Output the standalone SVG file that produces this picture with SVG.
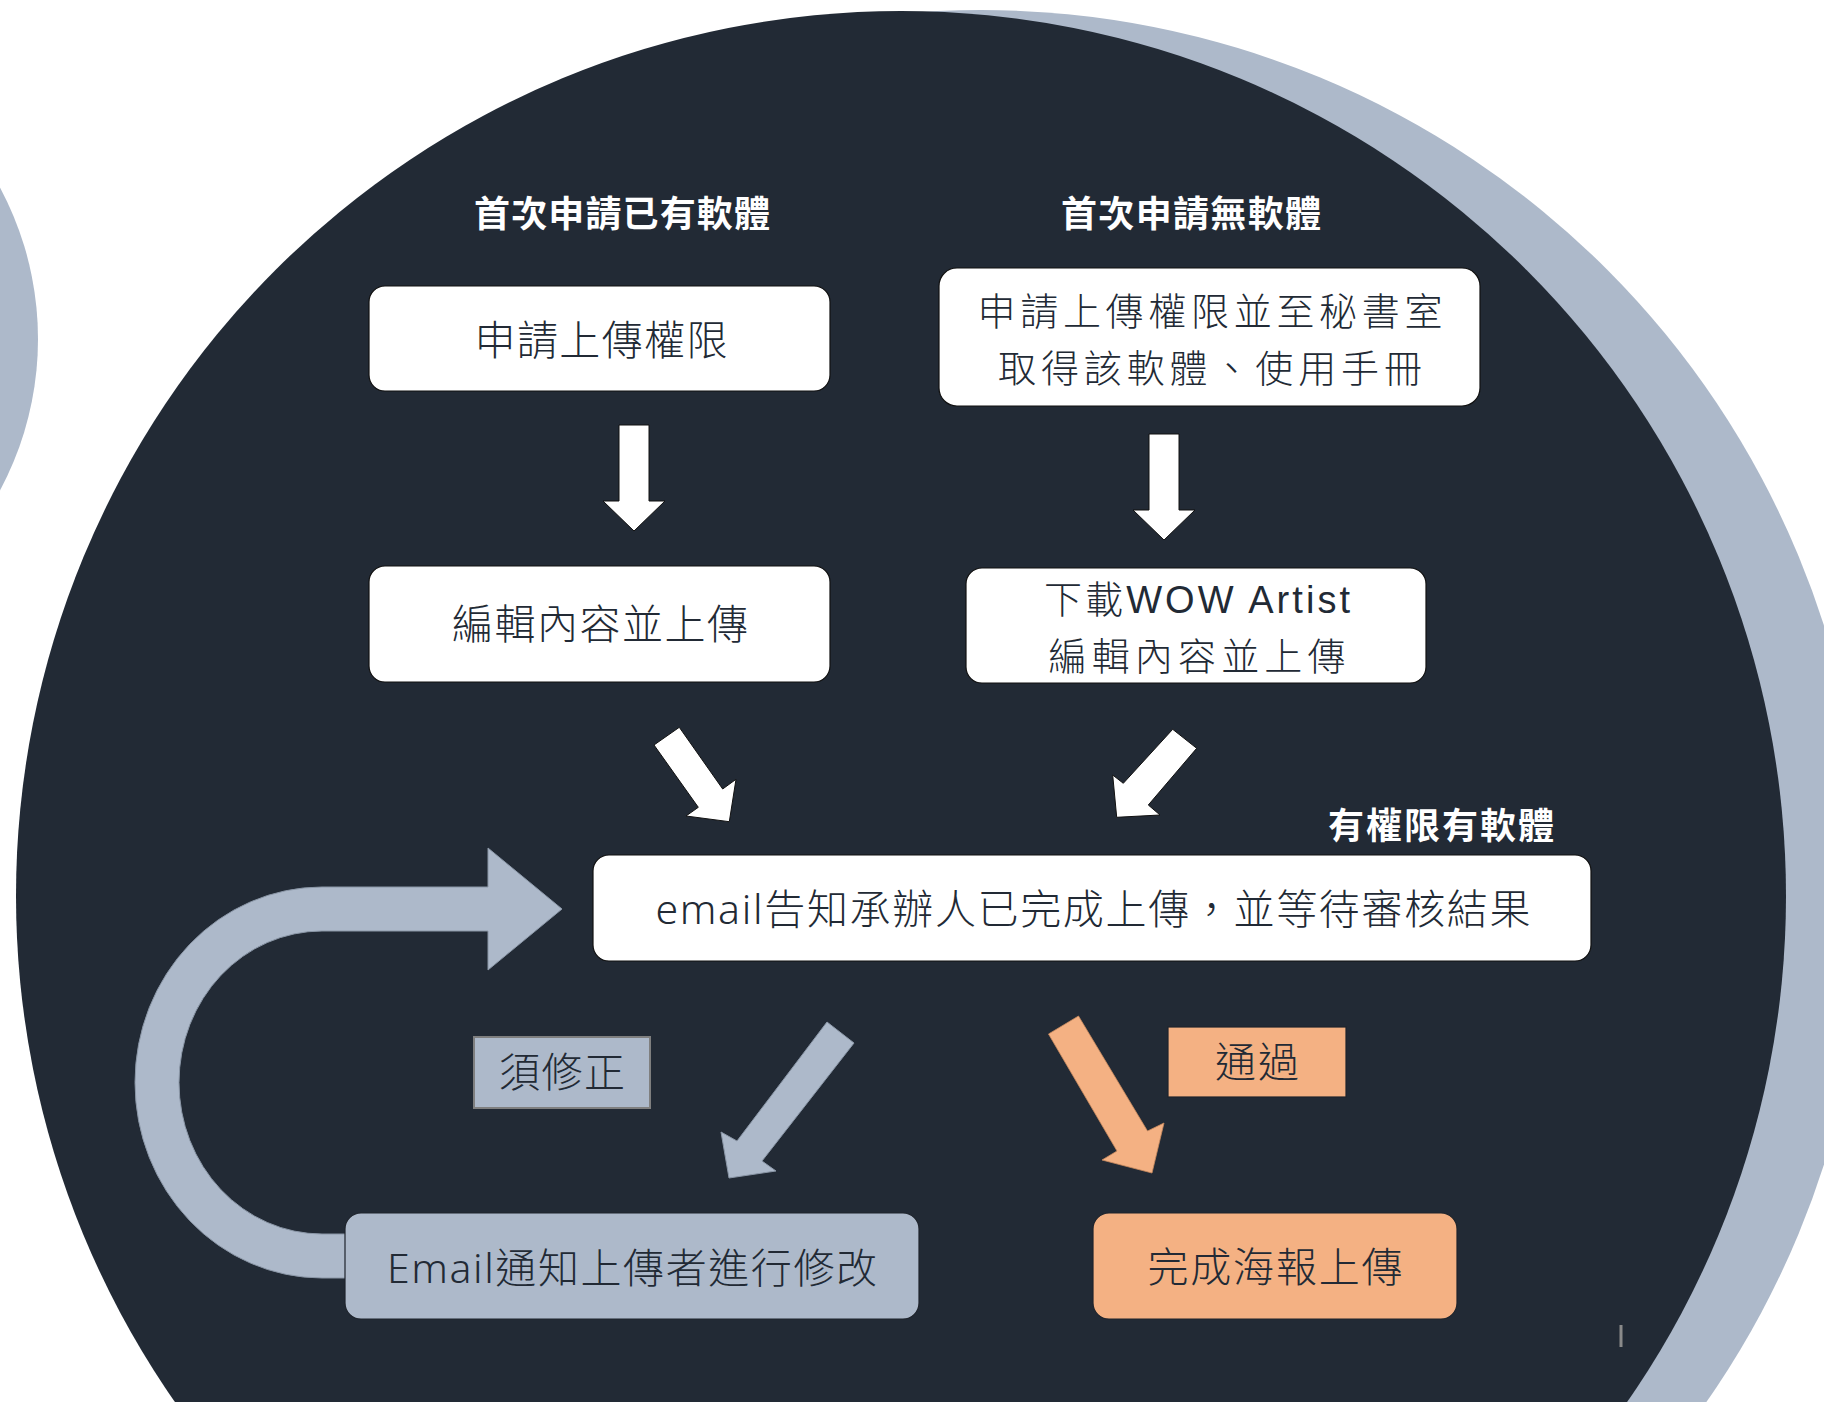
<svg xmlns="http://www.w3.org/2000/svg" width="1824" height="1402" viewBox="0 0 1824 1402">
<defs>
<style>
.t{font-family:'Noto Sans CJK TC','Noto Sans CJK SC',sans-serif;fill:#222a35;font-weight:300}
.lat{font-family:'Liberation Sans','Noto Sans CJK TC',sans-serif;fill:#222a35;font-weight:300}
.eml{font-family:'Noto Sans','Noto Sans CJK TC',sans-serif;fill:#222a35;font-weight:300}
.h{font-family:'Noto Sans CJK TC','Noto Sans CJK SC',sans-serif;fill:#ffffff;font-weight:700}
.wbox{fill:#ffffff;stroke:#111111;stroke-width:1.2}
.gbox{fill:#adb9ca;stroke:#1f242c;stroke-width:1.2}
.obox{fill:#f4b183;stroke:#1f242c;stroke-width:1.2}
.warr{fill:#ffffff;stroke:#111111;stroke-width:1}
.garr{fill:#adb9ca;stroke:#8a96a6;stroke-width:1}
.oarr{fill:#f4b183;stroke:#c98a5e;stroke-width:0.8}
</style>
</defs>
<rect width="1824" height="1402" fill="#ffffff"/>
<g id="background">
<circle cx="-283" cy="339" r="321" fill="#adb9ca"/>
<circle cx="981" cy="895" r="885" fill="#adb9ca"/>
<circle cx="901" cy="896" r="885" fill="#222a35"/>
<rect x="1619.5" y="1325" width="3" height="22" fill="#8a8a8a"/>
</g>
<g id="labels">
<text class="h" x="622" y="227" font-size="36" text-anchor="middle" textLength="296" lengthAdjust="spacing">首次申請已有軟體</text>
<text class="h" x="1191" y="227" font-size="36" text-anchor="middle" textLength="260" lengthAdjust="spacing">首次申請無軟體</text>
<text class="h" x="1441" y="839" font-size="36" text-anchor="middle" textLength="226" lengthAdjust="spacing">有權限有軟體</text>
</g>
<g id="connectors">
<polygon class="warr" points="619,425 649,425 649,501 665,501 634,531 603,501 619,501"/>
<polygon class="warr" points="1149,434 1179,434 1179,510 1195,510 1164,540 1133,510 1149,510"/>
<polygon class="warr" points="654,745 679.3,727.3 722.7,789 736,779.3 729.3,821.7 686,816 698.3,807.3"/>
<polygon class="warr" points="1172.7,729.3 1196.7,748.3 1148.3,805 1160,815 1116.7,817.3 1112.7,775 1123.3,783.3"/>
<polygon class="garr" points="827,1022 854,1043 762,1161 776,1171 729,1178 721,1132 737,1141"/>
<polygon class="oarr" points="1048.5,1034 1078.5,1016 1147.5,1131 1164,1123 1152,1173 1102,1160 1117,1151"/>
<path class="garr" d="M 360,1278 L 322,1278 A 187 195.5 0 0 1 322,887 L 488,887 L 488,848 L 562,909 L 488,970 L 488,931 L 322,931 A 143 151.5 0 0 0 322,1234 L 360,1234 Z"/>
</g>
<g id="node-apply">
<rect class="wbox" x="369" y="286" width="461" height="105" rx="16"/>
<text class="t" x="601" y="355" font-size="41" text-anchor="middle" textLength="253" lengthAdjust="spacing">申請上傳權限</text>
</g>
<g id="node-edit-left">
<rect class="wbox" x="369" y="566" width="461" height="116" rx="16"/>
<text class="t" x="600" y="639" font-size="41" text-anchor="middle" textLength="296" lengthAdjust="spacing">編輯內容並上傳</text>
</g>
<g id="node-apply-software">
<rect class="wbox" x="939" y="268" width="541" height="138" rx="18"/>
<text class="t" x="1210" y="325" font-size="38" text-anchor="middle" textLength="465" lengthAdjust="spacing">申請上傳權限並至秘書室</text>
<text class="t" x="1210" y="382" font-size="38" text-anchor="middle" textLength="424" lengthAdjust="spacing">取得該軟體、使用手冊</text>
</g>
<g id="node-download">
<rect class="wbox" x="966" y="568" width="460" height="115" rx="16"/>
<text class="lat" x="1197" y="613" font-size="38" text-anchor="middle" textLength="306" lengthAdjust="spacing">下載WOW Artist</text>
<text class="t" x="1197" y="670" font-size="38" text-anchor="middle" textLength="297" lengthAdjust="spacing">編輯內容並上傳</text>
</g>
<g id="node-email">
<rect class="wbox" x="593" y="855" width="998" height="106" rx="16"/>
<text class="eml" x="1093" y="924" font-size="41" text-anchor="middle" textLength="875" lengthAdjust="spacing">email告知承辦人已完成上傳，並等待審核結果</text>
</g>
<g id="label-revise">
<rect x="474" y="1037" width="176" height="71" fill="#adb9ca" stroke="#7f7f7f" stroke-width="2"/>
<text class="t" x="562" y="1087" font-size="41" text-anchor="middle" textLength="126" lengthAdjust="spacing">須修正</text>
</g>
<g id="label-pass">
<rect class="obox" x="1168" y="1027" width="178" height="70"/>
<text class="t" x="1257" y="1077" font-size="41" text-anchor="middle" textLength="84" lengthAdjust="spacing">通過</text>
</g>
<g id="node-revise">
<rect class="gbox" x="345" y="1213" width="574" height="106" rx="16"/>
<text class="eml" x="632" y="1283" font-size="41" text-anchor="middle" textLength="490" lengthAdjust="spacing">Email通知上傳者進行修改</text>
</g>
<g id="node-done">
<rect class="obox" x="1093" y="1213" width="364" height="106" rx="16"/>
<text class="t" x="1275" y="1282" font-size="41" text-anchor="middle" textLength="255" lengthAdjust="spacing">完成海報上傳</text>
</g>
</svg>
